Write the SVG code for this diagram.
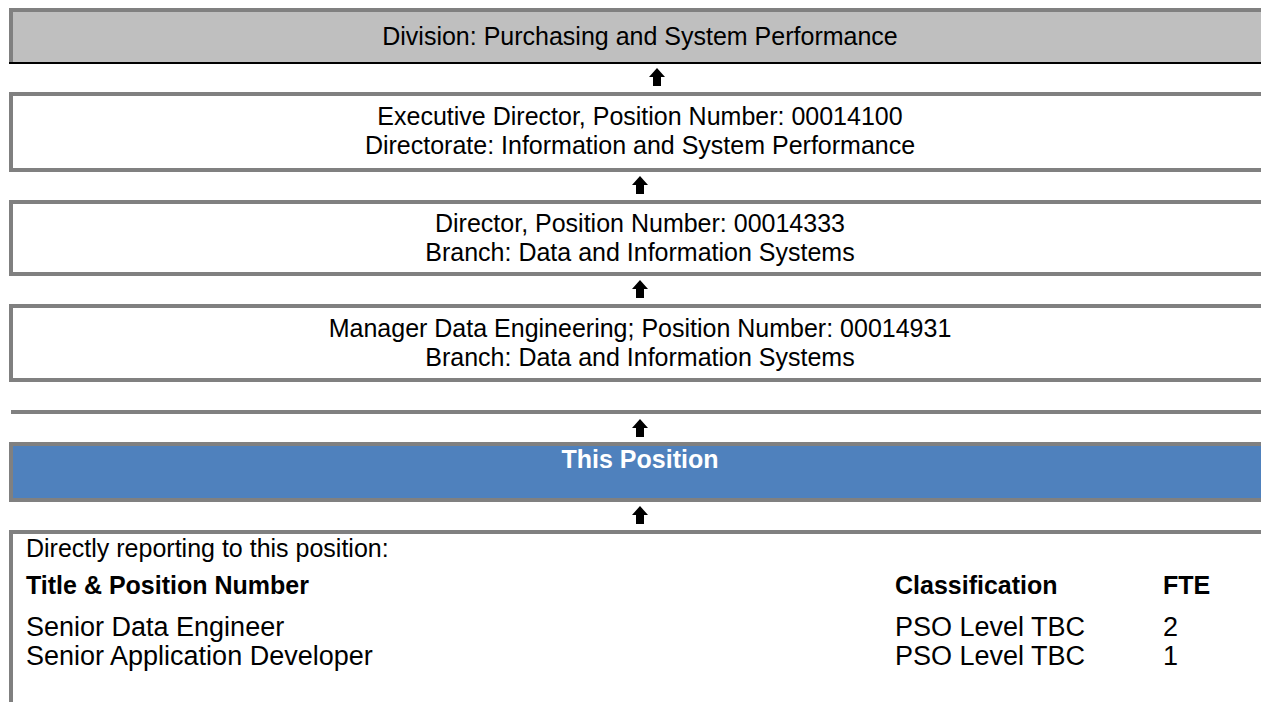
<svg xmlns="http://www.w3.org/2000/svg" width="1261" height="702" viewBox="0 0 1261 702">
<style>
text { font-family: "Liberation Sans", Arial, sans-serif; fill: #000; }
.box { font-size: 25px; text-anchor: middle; }
.hdr { font-size: 25px; font-weight: bold; }
.lbl { font-size: 25px; }
.row { font-size: 27px; }
.wbox { fill: #FFFFFF; stroke: #808080; stroke-width: 4; }
.arrow { fill: #000; }
</style>
<defs>
<path id="arr" d="M0,0 L8,9 L4,9 L4,18 L-4,18 L-4,9 L-8,9 Z"/>
</defs>
<rect x="0" y="0" width="1261" height="702" fill="#FFFFFF"/>

<g id="division">
<rect x="9" y="8" width="1260" height="56" fill="#BFBFBF"/>
<rect x="9" y="8" width="1260" height="4" fill="#808080"/>
<rect x="9" y="8" width="4" height="54" fill="#808080"/>
<rect x="9" y="62" width="1260" height="2" fill="#000000"/>
<text class="box" x="640" y="45">Division: Purchasing and System Performance</text>
</g>

<g id="executive-director">
<rect class="wbox" x="11" y="94" width="1300" height="76"/>
<text class="box" x="640" y="125">Executive Director, Position Number: 00014100</text>
<text class="box" x="640" y="154">Directorate: Information and System Performance</text>
</g>

<g id="director">
<rect class="wbox" x="11" y="202" width="1300" height="72"/>
<text class="box" x="640" y="232">Director, Position Number: 00014333</text>
<text class="box" x="640" y="261">Branch: Data and Information Systems</text>
</g>

<g id="manager">
<rect class="wbox" x="11" y="306" width="1300" height="74"/>
<text class="box" x="640" y="337">Manager Data Engineering; Position Number: 00014931</text>
<text class="box" x="640" y="366">Branch: Data and Information Systems</text>
</g>

<g id="separator">
<rect x="11" y="410" width="1260" height="4" fill="#808080"/>
</g>

<g id="this-position">
<rect x="11" y="444" width="1300" height="56" fill="#4F81BD" stroke="#808080" stroke-width="4"/>
<text class="box" x="640" y="468" style="fill:#FFFFFF;font-weight:bold">This Position</text>
</g>

<g id="direct-reports">
<rect class="wbox" x="11" y="532" width="1300" height="300"/>
<text class="lbl" x="26" y="557">Directly reporting to this position:</text>
<text class="hdr" x="26" y="594">Title &amp; Position Number</text>
<text class="hdr" x="895" y="594">Classification</text>
<text class="hdr" x="1163" y="594">FTE</text>
<text class="row" x="26" y="636">Senior Data Engineer</text>
<text class="row" x="895" y="636">PSO Level TBC</text>
<text class="row" x="1163" y="636">2</text>
<text class="row" x="26" y="665">Senior Application Developer</text>
<text class="row" x="895" y="665">PSO Level TBC</text>
<text class="row" x="1163" y="665">1</text>
</g>

<g id="connectors" class="arrow">
<use href="#arr" x="657" y="68"/>
<use href="#arr" x="640" y="176"/>
<use href="#arr" x="640" y="280"/>
<use href="#arr" x="640" y="419"/>
<use href="#arr" x="640" y="506"/>
</g>
</svg>
